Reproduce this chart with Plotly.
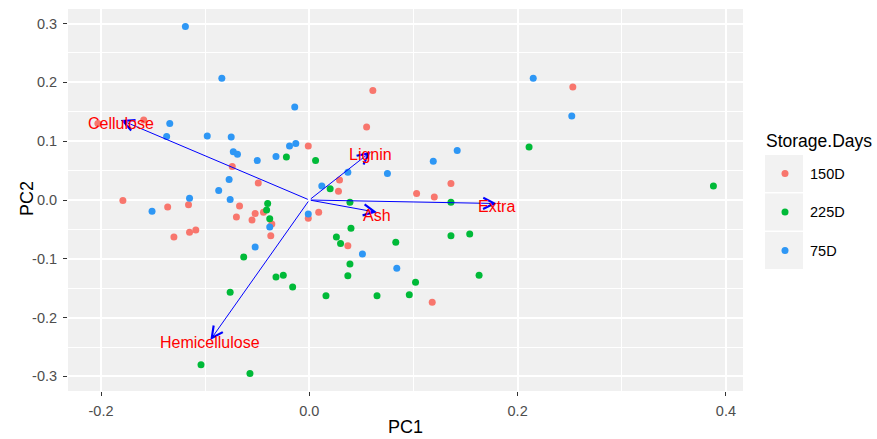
import plotly.graph_objects as go

# ---------------- data ----------------
groups = ["150D", "225D", "75D"]
colors = ["#F8766D", "#00BA38", "#2E97F5"]

pc1_150 = [-0.159, -0.203, -0.001, -0.074, -0.049, -0.179, 0.061, 0.055, 0.029, 0.028,
           0.136, 0.103, 0.120, 0.253, -0.136, -0.116, -0.067, -0.070, -0.052, -0.055,
           -0.044, -0.036, -0.037, -0.130, -0.115, -0.109, -0.001, 0.009, 0.037, 0.118]
pc2_150 = [0.136, 0.130, 0.092, 0.057, 0.029, -0.001, 0.186, 0.124, 0.034, 0.015,
           0.028, 0.011, 0.005, 0.192, -0.012, -0.008, -0.010, -0.029, -0.023, -0.034,
           -0.021, -0.041, -0.061, -0.063, -0.055, -0.051, -0.031, -0.021, -0.078, -0.174]

pc1_225 = [-0.022, 0.006, 0.020, 0.039, 0.136, 0.211, 0.388, -0.040, -0.041, -0.038,
           -0.063, -0.032, -0.025, -0.016, -0.076, -0.104, -0.057, 0.040, 0.026, 0.030,
           0.083, 0.136, 0.154, 0.039, 0.037, 0.102, 0.163, 0.016, 0.065, 0.096]
pc2_225 = [0.073, 0.067, 0.019, -0.004, -0.004, 0.090, 0.024, -0.006, -0.017, -0.032,
           -0.097, -0.131, -0.128, -0.148, -0.157, -0.280, -0.295, -0.048, -0.063, -0.074,
           -0.072, -0.061, -0.058, -0.109, -0.129, -0.140, -0.128, -0.163, -0.163, -0.161]

pc1_75 = [-0.119, -0.084, -0.014, -0.134, -0.137, -0.098, -0.075, -0.019, -0.013, -0.073,
          -0.069, -0.050, -0.032, -0.077, -0.087, -0.115, -0.076, 0.012, 0.215, 0.252,
          0.142, 0.119, 0.037, 0.075, -0.151, -0.038, -0.052, -0.001, 0.051, 0.084]
pc2_75 = [0.295, 0.207, 0.158, 0.130, 0.108, 0.109, 0.107, 0.092, 0.096, 0.082,
          0.078, 0.067, 0.074, 0.035, 0.016, 0.003, 0.001, 0.024, 0.207, 0.143,
          0.084, 0.066, 0.047, 0.045, -0.019, -0.046, -0.080, -0.024, -0.092, -0.116]

variables = ["Cellulose", "Lignin", "Ash", "Extra", "Hemicellulose"]
load_pc1 = [-0.181, 0.059, 0.065, 0.180, -0.095]
load_pc2 = [0.136, 0.082, -0.021, -0.006, -0.238]

x_ticks = [-0.2, 0.0, 0.2, 0.4]
x_tick_labels = ["-0.2", "0.0", "0.2", "0.4"]
y_ticks = [-0.3, -0.2, -0.1, 0.0, 0.1, 0.2, 0.3]
y_tick_labels = ["-0.3", "-0.2", "-0.1", "0.0", "0.1", "0.2", "0.3"]

x_title = "PC1"
y_title = "PC2"
legend_title = "Storage.Days"

# ---------------- layout geometry ----------------
W, H = 877, 439
ML, MR, MT, MB = 68, 134, 9, 48
PW, PH = W - ML - MR, H - MT - MB
FONT = "Liberation Sans, Arial, sans-serif"


def pxx(px):
    return (px - ML) / PW


def pxy(py):
    return (H - MB - py) / PH


fig = go.Figure()

series = [(pc1_150, pc2_150), (pc1_225, pc2_225), (pc1_75, pc2_75)]
for g, c, (xs, ys) in zip(groups, colors, series):
    fig.add_trace(go.Scatter(x=xs, y=ys, mode="markers", name=g,
                             marker=dict(color=c, size=7, line=dict(width=0)),
                             showlegend=False))

annotations = []
for name, lx, ly in zip(variables, load_pc1, load_pc2):
    annotations.append(dict(x=lx, y=ly, ax=0, ay=0, xref="x", yref="y",
                            axref="x", ayref="y", text="", showarrow=True,
                            arrowhead=5, arrowsize=2.2, arrowwidth=1,
                            arrowcolor="#0000FF", standoff=0))
for name, lx, ly in zip(variables, load_pc1, load_pc2):
    annotations.append(dict(x=lx, y=ly, xref="x", yref="y", text=name,
                            showarrow=False, yshift=-3,
                            font=dict(family=FONT, size=16, color="#FF0000")))

# axis titles
annotations.append(dict(x=pxx(405.5), y=pxy(427), xref="paper", yref="paper",
                        text=x_title, showarrow=False, xanchor="center",
                        yanchor="middle",
                        font=dict(family=FONT, size=18, color="#000000")))
annotations.append(dict(x=pxx(27), y=pxy(199), xref="paper", yref="paper",
                        text=y_title, showarrow=False, xanchor="center",
                        yanchor="middle", textangle=-90,
                        font=dict(family=FONT, size=18, color="#000000")))

# manual legend (ggplot style)
shapes = []
annotations.append(dict(x=pxx(764), y=pxy(141), xref="paper", yref="paper",
                        text=legend_title, showarrow=False, xanchor="left",
                        yanchor="middle",
                        font=dict(family=FONT, size=17.5, color="#000000")))
row_tops = [155, 193.5, 232]
for g, c, top in zip(groups, colors, row_tops):
    shapes.append(dict(type="rect", xref="paper", yref="paper",
                       x0=pxx(765), x1=pxx(803), y0=pxy(top + 37), y1=pxy(top),
                       fillcolor="#F2F2F2", line=dict(width=0), layer="above"))
    cy = top + 18.5
    shapes.append(dict(type="circle", xref="paper", yref="paper",
                       xsizemode="pixel", ysizemode="pixel",
                       xanchor=pxx(785), yanchor=pxy(cy),
                       x0=-3.5, x1=3.5, y0=-3.5, y1=3.5,
                       fillcolor=c, line=dict(width=0), layer="above"))
    annotations.append(dict(x=pxx(808), y=pxy(cy), xref="paper", yref="paper",
                            text=g, showarrow=False, xanchor="left",
                            yanchor="middle",
                            font=dict(family=FONT, size=14.5, color="#000000")))

axis_common = dict(
    automargin=False,
    showgrid=True, gridcolor="#FFFFFF", gridwidth=1.6,
    zeroline=False, showline=False,
    ticks="outside", ticklen=4, tickwidth=1, tickcolor="#333333",
    tickfont=dict(family=FONT, size=14.5, color="#4D4D4D"),
    ticklabelstandoff=3,
)

fig.update_layout(
    width=W, height=H,
    margin=dict(l=ML, r=MR, t=MT, b=MB, pad=0),
    paper_bgcolor="#FFFFFF", plot_bgcolor="#F0F0F0",
    showlegend=False,
    xaxis=dict(range=[-0.2317, 0.4164], tickmode="array", tickvals=x_ticks,
               ticktext=x_tick_labels,
               minor=dict(dtick=0.1, tick0=0, showgrid=True,
                          gridcolor="#FFFFFF", gridwidth=0.8, ticks=""),
               **axis_common),
    yaxis=dict(range=[-0.3248, 0.3248], tickmode="array", tickvals=y_ticks,
               ticktext=y_tick_labels,
               minor=dict(dtick=0.05, tick0=0, showgrid=True,
                          gridcolor="#FFFFFF", gridwidth=0.8, ticks=""),
               **axis_common),
    annotations=annotations,
    shapes=shapes,
)

fig.write_html("out.html")
